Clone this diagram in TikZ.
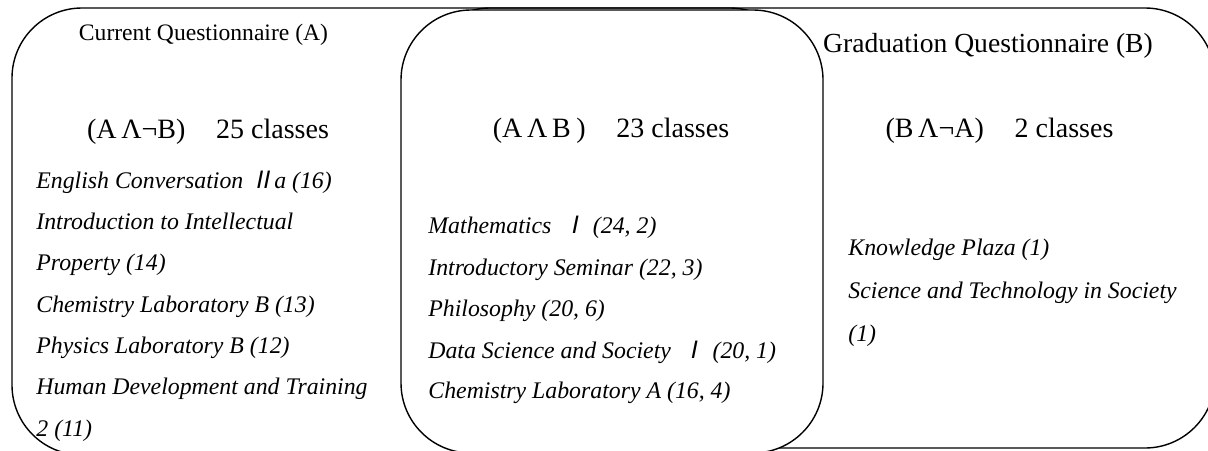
\documentclass[tikz,border=0pt]{standalone}
\usepackage{fontspec}
\setmainfont{Liberation Serif}
\newfontfamily\cjk[FakeSlant=0.2]{Noto Sans CJK JP}
\newcommand{\rnum}[1]{{\cjk #1}}
\tikzset{
  setbox/.style={draw, line width=0.7pt, rounded corners=35pt, inner sep=0pt},
  settitle/.style={anchor=base, inner sep=0pt, font=\fontsize{11.8}{14}\selectfont},
  sethead/.style={anchor=base, inner sep=0pt, font=\fontsize{14}{16}\selectfont},
  classitem/.style={anchor=base west, inner sep=0pt, font=\fontsize{11.9}{14}\selectfont\itshape}
}
\begin{document}
\begin{tikzpicture}[x=0.5pt,y=-0.5pt]
\useasboundingbox[fill=white] (0,0) rectangle (1208,450);
% the three sets
\node[setbox, minimum width=394pt, minimum height=223.5pt] (setA) at (406,231.5) {};
\node[setbox, minimum width=397.5pt, minimum height=220pt] (setB) at (817.5,228) {};
\node[setbox, fill=white, minimum width=211pt, minimum height=221.5pt] (both) at (612,231.5) {};
% titles
\node[settitle] (titleA) at (203.5,40) {Current Questionnaire (A)};
\node[settitle, font=\fontsize{13.8}{16}\selectfont] (titleB) at (988,52) {Graduation Questionnaire (B)};
\node[sethead] (headA) at (208,138) {(A\,Λ¬B)\hspace{1.1em}25 classes};
\node[sethead] (headAB) at (611,137) {(A\,Λ\,B\hspace{0.2em})\hspace{1.1em}23 classes};
\node[sethead] (headB) at (999.5,137) {(B\,Λ¬A)\hspace{1.1em}2 classes};
% only A
\node[classitem] (a1) at (36,188) {English Conversation\hspace{0.3em}\rnum{Ⅱ}a (16)};
\node[classitem] (a2) at (36,229) {Introduction to Intellectual};
\node[classitem] (a3) at (36,270) {Property (14)};
\node[classitem] (a4) at (36,312) {Chemistry Laboratory B (13)};
\node[classitem] (a5) at (36,353) {Physics Laboratory B (12)};
\node[classitem] (a6) at (36,394) {Human Development and Training};
\node[classitem] (a7) at (36,436) {2 (11)};
% A and B
\node[classitem] (ab1) at (428,233) {Mathematics\hspace{0.45em}\rnum{Ⅰ}\hspace{0.3em}(24, 2)};
\node[classitem] (ab2) at (428,275) {Introductory Seminar (22, 3)};
\node[classitem] (ab3) at (428,316) {Philosophy (20, 6)};
\node[classitem] (ab4) at (428,358) {Data Science and Society\hspace{0.45em}\rnum{Ⅰ}\hspace{0.3em}(20, 1)};
\node[classitem] (ab5) at (428,398) {Chemistry Laboratory A (16, 4)};
% only B
\node[classitem] (b1) at (848,255) {Knowledge Plaza (1)};
\node[classitem] (b2) at (848,298) {Science and Technology in Society};
\node[classitem] (b3) at (848,341) {(1)};
\end{tikzpicture}
\end{document}
